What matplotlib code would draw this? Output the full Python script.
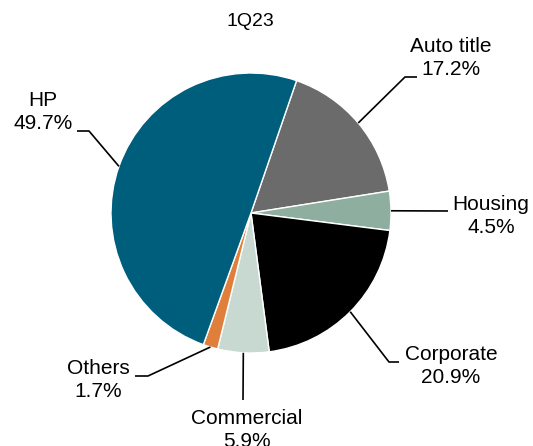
import numpy as np
import matplotlib
matplotlib.use('Agg')
import matplotlib.pyplot as plt

plt.rcParams['font.family'] = ['Liberation Sans', 'DejaVu Sans']

# data
segments = ['Auto title', 'Housing', 'Corporate', 'Commercial', 'Others', 'HP']
shares = [17.2, 4.5, 20.9, 5.9, 1.7, 49.7]
colors = ['#6b6b6b', '#8eaf9f', '#000000', '#c8d9d2', '#e07f3c', '#005e7d']
title = '1Q23'

W, H = 533, 446
fig = plt.figure(figsize=(W / 100, H / 100), dpi=100)
ax = fig.add_axes([0, 0, 1, 1])

cx, cy, r = 251, H - 213, 140
start = 71
wedges, _ = ax.pie(shares, colors=colors, startangle=start, counterclock=False,
                   center=(cx, cy), radius=r, frame=True,
                   wedgeprops=dict(edgecolor='white', linewidth=1.0))
ax.set_xlim(0, W)
ax.set_ylim(0, H)
ax.axis('off')

# label layout (pixel coords, y from top): elbow, line end, text centre
layout = {
    'Auto title': [(405, 77), (417, 77), (451, 58)],
    'Housing':    [None, (448, 211), (491, 216)],
    'Corporate':  [(389, 362), (399, 362), (451, 366)],
    'Commercial': [None, (243, 400), (247, 430)],
    'Others':     [(148, 376), (135, 376), (98, 380)],
    'HP':         [(89, 131), (77, 131), (43, 112)],
}

for w, name, val in zip(wedges, segments, shares):
    mid = np.deg2rad((w.theta1 + w.theta2) / 2)
    x0 = cx + r * np.cos(mid)
    y0 = cy + r * np.sin(mid)
    elbow, end, txt = layout[name]
    xs, ys = [x0], [y0]
    if elbow is not None:
        xs.append(elbow[0]); ys.append(H - elbow[1])
    xs.append(end[0]); ys.append(H - end[1])
    ax.plot(xs, ys, color='black', lw=1.2, solid_capstyle='butt')
    ax.text(txt[0], H - txt[1], f'{name}\n{val}%', ha='center', va='center',
            fontsize=15, linespacing=1.3)

ax.text(250, H - 22, title, ha='center', va='center', fontsize=14)

fig.savefig('out.png', dpi=100, facecolor='white')
